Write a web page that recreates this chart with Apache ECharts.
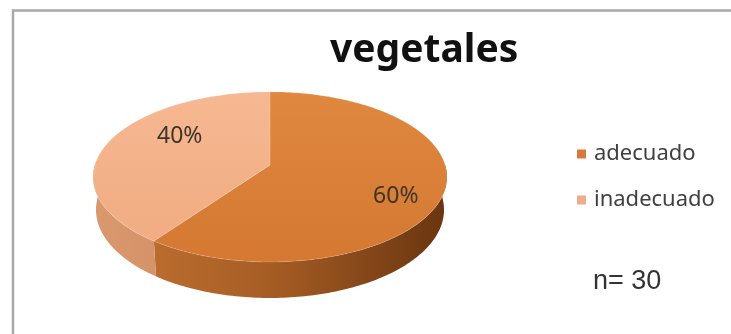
<!DOCTYPE html>
<html>
<head>
<meta charset="utf-8">
<title>vegetales</title>
<script src="https://cdn.jsdelivr.net/npm/echarts@6/dist/echarts.min.js"></script>
<style>
  html, body { margin: 0; padding: 0; background: #ffffff; }
  #chart { width: 731px; height: 334px; }
</style>
</head>
<body>
<div id="chart"></div>
<script>
// Chart data
const chartTitle = 'vegetales';
const categories = ['adecuado', 'inadecuado'];
const shares = [60, 40];          // percent of respondents
const sampleSize = 30;

// Slice styling (top face, wall light -> dark)
const topColors = [['#e0883f', '#d47832'], ['#f6b892', '#f0aa80']];
const wallColors = [['#c57434', '#a65d24', '#6a3510'], ['#da986f', '#cf8960', '#c07a52']];
const legendColors = ['#d9793a', '#eeae8c'];
// Label nudges (px) applied after projecting the mid-angle anchor
const labelNudge = [[2, 12], [26, -11]];

// Perspective view of a tilted disc
const VIEW = { cx: 270, cy: 165, F: 1100, D: 6.28, tilt: Math.asin(0.476), thick: 0.215 };

function project(X, Y, Z) {
  const s = Math.sin(VIEW.tilt), c = Math.cos(VIEW.tilt);
  const d = VIEW.D - Y * s - Z * c;
  return [VIEW.cx + VIEW.F * X / d, VIEW.cy + VIEW.F * (Z * s - Y * c) / d];
}
// angle measured clockwise from 12 o'clock, in degrees
function rimPoint(deg, r, Y) {
  const a = deg * Math.PI / 180;
  return project(r * Math.sin(a), Y, -r * Math.cos(a));
}
function arc(a0, a1, r, Y) {
  const pts = [];
  const n = Math.max(2, Math.ceil(Math.abs(a1 - a0)));
  for (let k = 0; k <= n; k++) pts.push(rimPoint(a0 + (a1 - a0) * k / n, r, Y));
  return pts;
}

const total = shares.reduce((a, b) => a + b, 0);
function sliceRange(i) {
  let before = 0;
  for (let k = 0; k < i; k++) before += shares[k];
  return [before / total * 360, (before + shares[i]) / total * 360];
}

function makeSliceSeries(i) {
  return {
    type: 'custom',
    name: categories[i],
    coordinateSystem: 'none',
    silent: true,
    itemStyle: { color: legendColors[i] },
    data: [shares[i]],
    renderItem: function (params, api) {
      const value = api.value(0);
      const [a0, a1] = sliceRange(i);
      const children = [];
      const left = project(-1, 0, 0)[0], right = project(1, 0, 0)[0];

      // side wall: only the front half (90..270 deg from 12 o'clock) faces the viewer
      const w0 = Math.max(a0, 90), w1 = Math.min(a1, 270);
      if (w1 > w0) {
        const topArc = arc(w0, w1, 1, 0);
        const botArc = arc(w0, w1, 1, -VIEW.thick).reverse();
        children.push({
          type: 'polygon',
          z2: 1,
          shape: { points: topArc.concat(botArc) },
          style: {
            fill: {
              type: 'linear', global: true,
              x: left, y: 0, x2: right, y2: 0,
              colorStops: [
                { offset: 0, color: wallColors[i][0] },
                { offset: 0.5, color: wallColors[i][1] },
                { offset: 1, color: wallColors[i][2] }
              ]
            },
            stroke: null
          }
        });
      }

      // top face
      const top = [project(0, 0, 0)].concat(arc(a0, a1, 1, 0));
      const topY = project(0, 0, -1)[1], botY = project(0, 0, 1)[1];
      children.push({
        type: 'polygon',
        z2: 5,
        shape: { points: top },
        style: {
          fill: {
            type: 'linear', global: true,
            x: 0, y: topY, x2: 0, y2: botY,
            colorStops: [
              { offset: 0, color: topColors[i][0] },
              { offset: 1, color: topColors[i][1] }
            ]
          },
          stroke: 'rgba(255,255,255,0.25)',
          lineWidth: 0.6
        }
      });

      // percentage label
      const mid = (a0 + a1) / 2;
      const p = rimPoint(mid, 0.72, 0);
      children.push({
        type: 'text',
        z2: 10,
        style: {
          text: Math.round(value / total * 100) + '%',
          x: p[0] + labelNudge[i][0],
          y: p[1] + labelNudge[i][1],
          align: 'center',
          verticalAlign: 'middle',
          fontFamily: 'Noto Sans',
          fontSize: 23,
          fill: '#3d3528'
        }
      });
      return { type: 'group', children: children };
    }
  };
}

const chart = echarts.init(document.getElementById('chart'), null, { renderer: 'canvas' });
chart.setOption({
  animation: false,
  backgroundColor: '#ffffff',
  title: [
    {
      text: chartTitle,
      left: 325, top: 26,
      textStyle: { fontFamily: 'Noto Sans', fontWeight: 'bold', fontSize: 39, color: '#111111' }
    },
    {
      text: 'n= ' + sampleSize,
      left: 588, top: 263,
      textStyle: { fontFamily: 'Liberation Sans', fontWeight: 'normal', fontSize: 27, color: '#333333' }
    }
  ],
  legend: {
    data: categories,
    orient: 'vertical',
    left: 572, top: 137,
    icon: 'rect',
    itemWidth: 9, itemHeight: 9,
    itemGap: 22,
    textStyle: { fontFamily: 'Noto Sans', fontSize: 22, color: '#404040', lineHeight: 24, padding: [0, 0, 0, 3] }
  },
  graphic: [
    {
      type: 'polyline',
      silent: true,
      shape: { points: [[13, 334], [13, 10.5], [731, 10.5]] },
      style: { stroke: '#a8a8a8', lineWidth: 2.5, fill: null }
    }
  ],
  series: categories.map((_, i) => makeSliceSeries(i))
});
</script>
</body>
</html>
